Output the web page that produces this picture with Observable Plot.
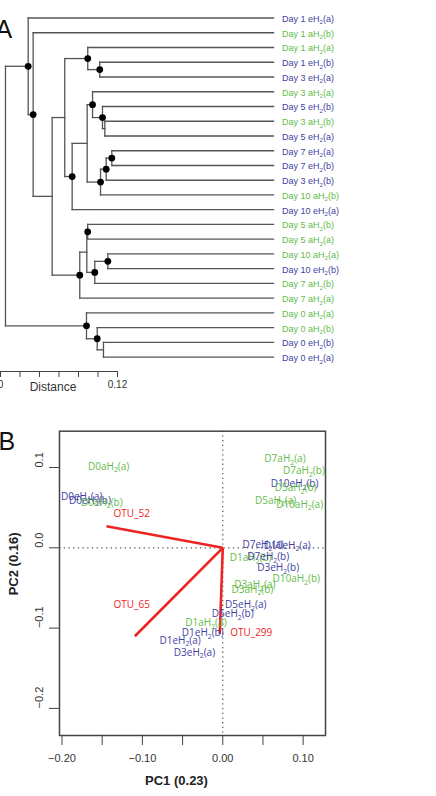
<!DOCTYPE html>
<html><head><meta charset="utf-8">
<script src="https://cdn.jsdelivr.net/npm/d3@7"></script>
<script src="https://cdn.jsdelivr.net/npm/@observablehq/plot@0.6"></script>
<style>
html,body{margin:0;padding:0;background:#fff;overflow:hidden}
#wrap{width:436px;height:796px;position:relative}
#wrap svg{display:block;overflow:visible}
</style></head><body><div id="wrap"></div>
<script>
// ---------- Panel A: dendrogram ----------
const leafLabels = ["Day 1 eH2(a)","Day 1 aH2(b)","Day 1 aH2(a)","Day 1 eH2(b)","Day 3 eH2(a)","Day 3 aH2(a)","Day 5 eH2(b)","Day 3 aH2(b)","Day 5 eH2(a)","Day 7 eH2(a)","Day 7 eH2(b)","Day 3 eH2(b)","Day 10 aH2(b)","Day 10 eH2(a)","Day 5 aH2(b)","Day 5 aH2(a)","Day 10 aH2(a)","Day 10 eH2(b)","Day 7 aH2(b)","Day 7 aH2(a)","Day 0 aH2(a)","Day 0 aH2(b)","Day 0 eH2(b)","Day 0 eH2(a)"];
const leafDistance = 0.280;
const nodeNames    = ["root","T","T2","X1","A","A1","A1a","A2","A2a","A2a1","A2a1b","A2a1b2","A2a2","A2a2a","A2a2a1","B","B1","B1a","B1b","B1b1","D0","D0b","D0b2"];
const nodeDistance = [0.0051,0.0284,0.0335,0.0530,0.0659,0.0895,0.1018,0.0735,0.0889,0.0944,0.1046,0.1070,0.1026,0.1084,0.1142,0.0813,0.0885,0.0894,0.0967,0.1101,0.0882,0.0992,0.1056];
const nodeChildren = [["T","D0"],[0,"T2"],[1,"X1"],["A","B"],["A1","A2"],[2,"A1a"],[3,4],["A2a",13],["A2a1","A2a2"],[5,"A2a1b"],[6,"A2a1b2"],[7,8],["A2a2a",12],["A2a2a1",11],[9,10],["B1",19],["B1a","B1b"],[14,15],["B1b1",18],[16,17],[20,"D0b"],[21,"D0b2"],[22,23]];
const nodeSupported = [false,true,true,false,false,true,true,true,false,true,true,false,true,true,true,true,false,true,true,true,true,true,false];
const distanceTicks = [0,0.02,0.04,0.06,0.08,0.10,0.12];
const distanceTickLabels = ["0","","","","","","0.12"];

// ---------- Panel B: PCA biplot ----------
const pcaLabels = ["D0aH2(a)","D0eH2(a)","D0eH2(b)","D0aH2(b)","D7aH2(a)","D7aH2(b)","D10eH2(b)","D5aH2(b)","D5aH2(a)","D10aH2(a)","D7eH2(a)","D10eH2(a)","D1aH2(b)","D7eH2(b)","D3eH2(b)","D10aH2(b)","D3aH2(a)","D3aH2(b)","D5eH2(a)","D5eH2(b)","D1aH2(a)","D1eH2(b)","D1eH2(a)","D3eH2(a)"];
const pcaPC1 = [-0.1419,-0.1755,-0.1652,-0.1505,0.0774,0.1010,0.0894,0.0907,0.0658,0.0956,0.0502,0.0802,0.0347,0.0566,0.0689,0.0914,0.0398,0.0369,0.0286,0.0124,-0.0209,-0.0249,-0.0530,-0.0352];
const pcaPC2 = [0.1012,0.0630,0.0590,0.0564,0.1103,0.0959,0.0797,0.0742,0.0589,0.0539,0.0032,0.0029,-0.0125,-0.0117,-0.0254,-0.0386,-0.0461,-0.0519,-0.0715,-0.0822,-0.0939,-0.1059,-0.1154,-0.1304];
const otuNames = ["OTU_52","OTU_65","OTU_299"];
const otuPC1 = [-0.1447,-0.1094,-0.0037];
const otuPC2 = [0.0269,-0.1101,-0.1071];
const otuLabelPC1 = [-0.1132,-0.1132,0.0354];
const otuLabelPC2 = [0.0418,-0.0715,-0.1059];
const pc1Ticks = [-0.20,-0.15,-0.10,-0.05,0,0.05,0.10];
const pc1TickLabels = ["\u22120.20","","\u22120.10","","0.00","","0.10"];
const pc2Ticks = [-0.2,-0.1,0,0.1];
const pc2TickLabels = ["\u22120.2","\u22120.1","0.0","0.1"];

const BLUE = "#3f3f9f", GREEN = "#62bb48", RED = "#ee2424";
const colorOf = s => /eH/.test(s) ? BLUE : GREEN;

// tree geometry (from leaf order)
const memo = {};
function yOf(c) {
  if (typeof c === "number") return c;
  if (memo[c] !== undefined) return memo[c];
  const i = nodeNames.indexOf(c);
  const ys = nodeChildren[i].map(yOf);
  return memo[c] = (ys[0] + ys[1]) / 2;
}
const dOf = c => typeof c === "number" ? leafDistance : nodeDistance[nodeNames.indexOf(c)];
const segments = [];
nodeNames.forEach((n, i) => {
  const d = nodeDistance[i];
  const ys = nodeChildren[i].map(yOf);
  segments.push({x1: d, y1: Math.min(...ys), x2: d, y2: Math.max(...ys)});
  nodeChildren[i].forEach(c => segments.push({x1: d, y1: yOf(c), x2: dOf(c), y2: yOf(c)}));
});
const supportedNodes = nodeNames.filter((n, i) => nodeSupported[i]).map(n => ({x: dOf(n), y: yOf(n)}));
const leaves = leafLabels.map((l, i) => ({label: l, i}));

function subscript(svg, shift) {
  d3.select(svg).selectAll("text").each(function() {
    const t = this.textContent;
    const m = /^(.*H)2(\(.*)$/.exec(t);
    if (!m) return;
    const el = d3.select(this);
    el.text(null);
    el.append("tspan").text(m[1]);
    el.append("tspan").attr("font-size", "68%").attr("dy", shift).text("2");
    el.append("tspan").attr("dy", -shift).text(m[2]);
  });
}

const plotA = Plot.plot({
  width: 436, height: 400,
  marginLeft: 0, marginRight: 319, marginTop: 17.5, marginBottom: 29,
  x: {domain: [0, 0.12], axis: null},
  y: {domain: [0, 23], range: [17.5, 356.7], axis: null},
  style: {fontFamily: "'Liberation Sans', Arial, sans-serif", background: "transparent", overflow: "visible"},
  marks: [
    Plot.link(segments, {x1: "x1", y1: "y1", x2: "x2", y2: "y2", stroke: "#555", strokeWidth: 1.3, strokeLinecap: "square"}),
    Plot.dot(supportedNodes, {x: "x", y: "y", r: 3.4, fill: "#000"}),
    Plot.text(leaves, {x: () => leafDistance, y: "i", text: "label", fill: d => colorOf(d.label), textAnchor: "start", dx: 8.5, dy: 1, fontSize: 9}),
    Plot.frame({anchor: "bottom", stroke: "#444", strokeWidth: 1.2}),
    Plot.axisX({ticks: distanceTicks, tickSize: 6, tickPadding: 3, tickFormat: (d, i) => distanceTickLabels[i], fontSize: 10, stroke: "#444", color: "#333", label: null}),
    Plot.text(["Distance"], {frameAnchor: "bottom", dx: -6, dy: 19, fontSize: 12, fill: "#333"}),
    Plot.text(["A"], {frameAnchor: "top-left", textAnchor: "start", lineAnchor: "top", dx: -5, dy: 2.5, fontSize: 25, fill: "#111"})
  ]
});
subscript(plotA, 2.5);

const pca = pcaLabels.map((l, i) => ({label: l, x: pcaPC1[i], y: pcaPC2[i]}));
const otus = otuNames.map((n, i) => ({name: n, x: otuPC1[i], y: otuPC2[i], lx: otuLabelPC1[i], ly: otuLabelPC2[i]}));

const plotB = Plot.plot({
  width: 436, height: 396,
  marginLeft: 59, marginRight: 111, marginTop: 30.7, marginBottom: 61,
  x: {domain: [-0.2031, 0.1278], axis: null},
  y: {domain: [-0.2337, 0.1452], axis: null},
  style: {fontFamily: "'Liberation Sans', Arial, sans-serif", background: "transparent", overflow: "visible"},
  marks: [
    Plot.ruleX([0], {stroke: "#555", strokeDasharray: "1.3 3.4", strokeWidth: 1.2}),
    Plot.ruleY([0], {stroke: "#555", strokeDasharray: "1.3 3.4", strokeWidth: 1.2}),
    Plot.link(otus, {x1: () => 0, y1: () => 0, x2: "x", y2: "y", stroke: RED, strokeWidth: 2.6}),
    Plot.text(pca, {x: "x", y: "y", text: "label", fill: d => colorOf(d.label), fontSize: 10, fontFamily: "'Open Sans', sans-serif"}),
    Plot.text(otus, {x: "lx", y: "ly", text: "name", fill: RED, fontSize: 10, fontFamily: "'Open Sans', sans-serif"}),
    Plot.frame({stroke: "#444", strokeWidth: 1.5}),
    Plot.axisX({ticks: pc1Ticks, tickSize: 10, tickPadding: 9, tickFormat: (d, i) => pc1TickLabels[i], fontSize: 11, stroke: "#444", color: "#333", label: null}),
    Plot.axisY({ticks: pc2Ticks, tickSize: 10, tickFormat: () => "", stroke: "#444", label: null}),
    Plot.text(pc2Ticks, {y: d => d, text: (d, i) => pc2TickLabels[i], frameAnchor: "left", dx: -20, rotate: -90, fontSize: 11, fill: "#333"}),
    Plot.text(["PC1 (0.23)"], {frameAnchor: "bottom", dx: -16, dy: 49, fontSize: 13, fontWeight: "bold", fill: "#222"}),
    Plot.text(["PC2 (0.16)"], {frameAnchor: "left", dx: -46, dy: 12, rotate: -90, fontSize: 13, fontWeight: "bold", fill: "#222"}),
    Plot.text(["B"], {frameAnchor: "top-left", textAnchor: "start", lineAnchor: "top", dx: -61, dy: 1.5, fontSize: 25, fill: "#111"})
  ]
});
subscript(plotB, 2.6);

const wrap = document.getElementById("wrap");
wrap.appendChild(plotA);
wrap.appendChild(plotB);
</script></body></html>
